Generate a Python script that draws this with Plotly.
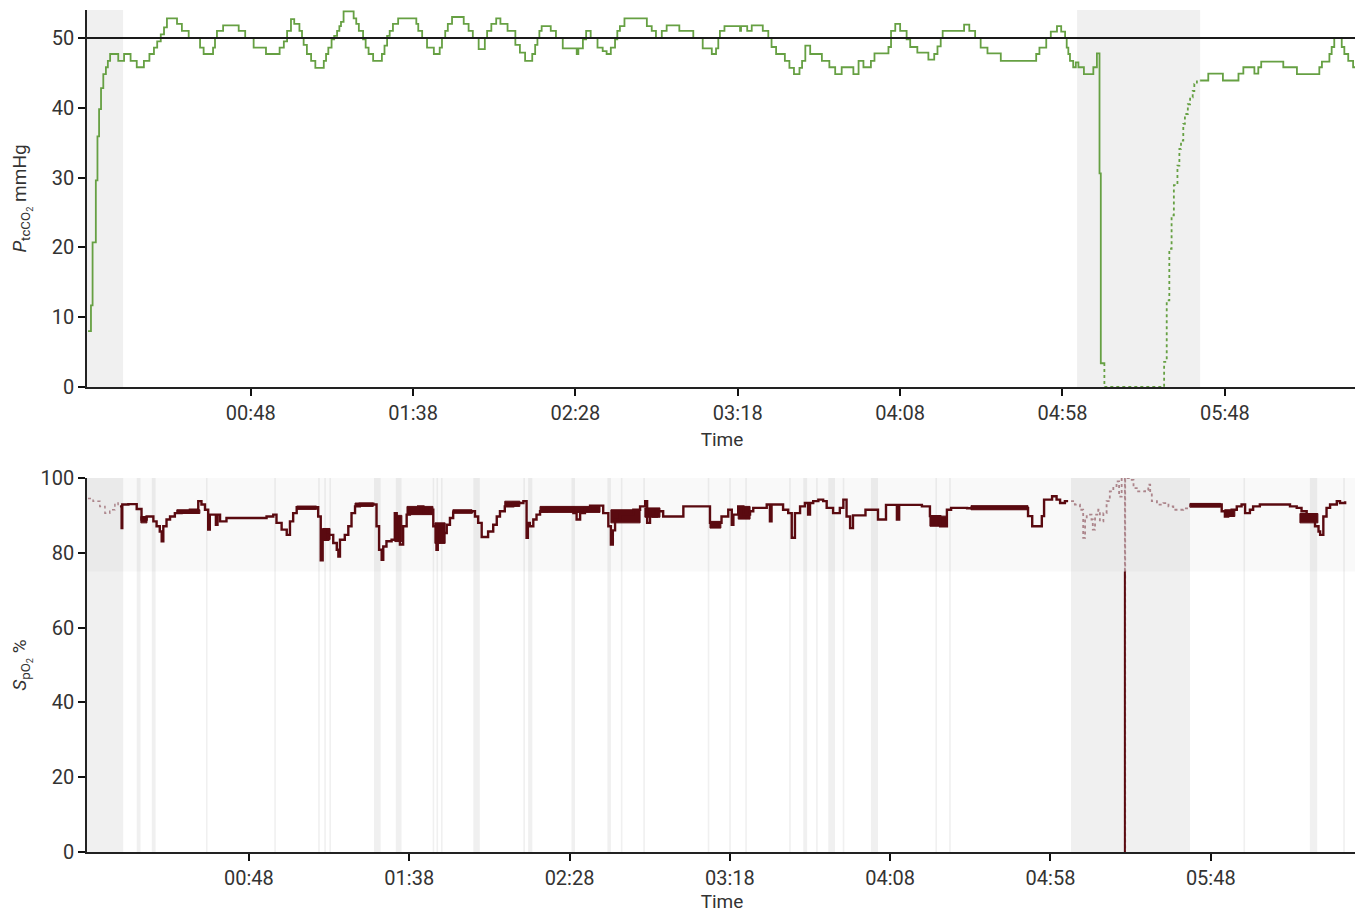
import plotly.graph_objects as go

# ---------------- data (time in minutes from start) ----------------
# PtcCO2 (mmHg) – valid signal, part 1
ptc_t1 = [-2.1, -1.2, -0.7, 0.3, 0.8, 1.3, 1.9, 2.6, 3.4, 4.0, 4.7, 7.2, 9.0, 11.0, 12.9, 15.1, 16.8,
          18.2, 19.2, 20.3, 21.3, 22.2, 25.3, 26.8, 28.9, 32.4, 33.5, 36.4, 37.0, 37.6, 39.5, 44.3, 46.3,
          48.9, 52.7, 56.9, 58.2, 59.2, 60.4, 61.4, 63.0, 63.8, 64.3, 65.3, 66.6, 67.9, 70.5, 71.2, 71.9,
          72.9, 73.7, 74.6, 75.3, 75.8, 76.6, 79.7, 80.5, 81.3, 82.6, 83.4, 84.3, 85.7, 88.4, 89.2, 90.0,
          90.8, 91.8, 93.4, 99.0, 99.6, 100.8, 102.3, 104.4, 106.2, 106.9, 107.9, 108.7, 110.0, 113.6,
          115.1, 116.4, 118.2, 120.1, 120.8, 122.1, 123.6, 124.9, 127.1, 129.5, 130.9, 132.5, 134.7,
          135.6, 136.3, 136.9, 137.6, 140.4, 142.0, 144.1, 148.4, 148.9, 150.3, 151.3, 152.7, 154.8,
          156.4, 157.6, 158.9, 160.2, 160.9, 161.7, 163.1, 170.0, 171.5, 172.8, 174.6, 176.1, 180.0,
          184.3, 187.2, 190.0, 191.3, 192.0, 192.5, 193.9, 198.7, 199.0, 200.9, 202.3, 205.7, 207.4,
          208.4, 209.8, 212.5, 213.9, 215.3, 217.0, 217.8, 218.8, 220.3, 223.9, 226.2, 228.0, 230.0,
          233.6, 235.2, 236.7, 239.0, 240.1, 244.4, 245.2, 246.5, 248.0, 250.0, 251.1, 253.3, 256.7,
          258.5, 259.5, 260.5, 261.1, 267.7, 269.3, 271.1, 272.8, 274.9, 279.0, 289.9, 290.9, 293.0,
          294.4, 296.3, 297.6, 298.8, 299.3, 299.8, 300.3, 301.3, 302.1, 302.9, 304.6, 307.5, 308.6,
          309.4, 309.8, 310.8]
ptc_v1 = [8.0, 11.7, 20.7, 29.6, 35.9, 39.8, 42.8, 44.8, 45.8, 46.7, 47.7, 46.7, 47.7, 46.7, 45.8, 46.7,
          47.7, 48.6, 49.5, 50.5, 51.5, 52.8, 52.0, 51.0, 50.0, 48.6, 47.7, 48.6, 50.0, 51.0, 51.8, 51.0,
          50.0, 48.6, 47.7, 48.6, 49.5, 51.0, 52.7, 52.0, 51.0, 50.0, 49.0, 47.7, 46.7, 45.7, 46.7, 47.7,
          48.6, 49.8, 50.3, 51.0, 51.7, 52.3, 53.8, 52.8, 52.0, 51.0, 49.8, 48.6, 47.7, 46.7, 47.7, 48.9,
          50.3, 51.0, 52.0, 52.8, 52.0, 51.0, 50.0, 48.6, 47.7, 48.6, 50.0, 51.0, 52.0, 53.0, 52.0, 51.0,
          50.0, 48.4, 50.0, 51.0, 52.0, 52.8, 52.0, 51.0, 49.0, 47.9, 46.7, 47.7, 49.0, 50.0, 51.0, 51.7,
          51.0, 50.0, 48.5, 47.7, 48.5, 49.8, 51.0, 50.0, 48.6, 48.1, 47.7, 48.6, 49.8, 51.0, 51.7, 52.8,
          51.7, 51.0, 50.0, 51.0, 51.8, 51.0, 50.0, 48.5, 47.7, 48.5, 50.0, 51.0, 51.7, 51.0, 51.7, 51.0,
          51.8, 51.0, 50.0, 48.7, 47.7, 46.7, 45.7, 44.8, 45.7, 46.7, 48.9, 47.7, 46.7, 45.8, 44.8, 45.8,
          44.8, 46.7, 45.8, 46.7, 47.8, 48.7, 51.0, 52.0, 51.0, 49.8, 48.7, 47.9, 46.9, 47.7, 48.8, 50.0,
          51.0, 51.9, 51.0, 50.0, 48.6, 47.8, 46.7, 47.7, 48.6, 50.0, 50.9, 51.7, 50.9, 50.0, 48.6, 47.7,
          46.7, 45.8, 46.5, 45.8, 44.8, 45.8, 47.8, 30.6, 3.4, 3.4]
# PtcCO2 – signal recovering (dotted)
ptc_t_gap = [310.8, 310.9, 329.3, 330.1, 330.9, 331.6, 332.3, 333.4, 334.0, 334.5, 335.2, 335.7, 336.6,
             337.3, 338.1, 338.6, 339.4, 340.4]
ptc_v_gap = [3.4, 0.0, 3.6, 12.4, 19.8, 24.6, 28.9, 31.7, 34.1, 35.3, 37.7, 39.1, 40.5, 41.5, 42.4, 43.4,
             43.9, 43.9]
# PtcCO2 – valid signal, part 2
ptc_t2 = [340.4, 342.9, 347.4, 352.2, 353.7, 357.1, 358.3, 359.2, 366.0, 370.2, 377.1, 377.9, 380.2,
          380.9, 381.7, 384.0, 384.8, 386.0, 387.5, 388.7]
ptc_v2 = [43.9, 44.9, 43.9, 44.9, 45.8, 44.9, 45.8, 46.6, 45.8, 44.8, 45.8, 46.6, 47.7, 48.7, 50.0, 48.7,
          47.7, 46.7, 45.8, 45.8]
ptc_target = 50
ptc_artifact_start = [-2.42, 302.5]
ptc_artifact_end = [8.7, 340.4]

# SpO2 (%) – artifact-flagged samples (light, dotted)
spo_t_art1 = [-2.2, -0.6, 1.5, 3.1, 4.6, 6.2, 7.2, 7.8]
spo_v_art1 = [94.5, 93.8, 92.4, 90.6, 91.5, 93.3, 92.4, 92.4]
spo_t_art2 = [304.4, 305.6, 307.2, 308.2, 308.8, 309.3, 310.8, 311.2, 311.9, 312.9, 313.4, 314.5, 315.5,
              316.5, 317.6, 318.6, 319.4, 320.2, 320.9, 321.2, 321.3, 321.8, 322.8, 323.9, 324.9, 327.5,
              328.5, 329.1, 329.6, 331.2, 333.2, 334.8, 336.3, 339.4, 341.5]
spo_v_art2 = [93.8, 92.9, 91.5, 84.0, 88.9, 90.2, 88.9, 86.2, 90.2, 91.5, 88.4, 90.6, 93.8, 96.4, 97.8,
              99.1, 95.0, 100, 100, 0, 100, 100, 99.5, 97.3, 96.4, 96.8, 98.2, 96.0, 93.8, 92.9, 93.3,
              92.4, 91.5, 91.9, 92.9]
# SpO2 – valid samples
spo_t1 = [7.8, 8.3, 8.5, 10.4, 13.0, 14.5, 16.1, 18.2, 19.2, 20.2, 20.8, 21.3, 22.3, 23.4, 24.9, 27.0,
          29.6, 32.2, 33.2, 34.3, 35.3, 35.8, 36.9, 37.7, 38.2, 39.0, 41.0, 53.5, 55.6, 56.6, 58.2, 59.8,
          60.8, 61.8, 62.9, 69.1, 69.6, 70.4, 71.0, 71.7, 72.7, 74.3, 75.4, 75.9, 76.4, 77.9, 79.0, 80.0,
          81.1, 82.6, 86.8, 87.8, 88.6, 89.4, 89.9, 90.9, 92.5, 93.5, 94.1, 95.1, 96.1, 97.2, 98.2, 100.8,
          102.4, 104.5, 105.5, 106.5, 106.9, 108.6, 109.7, 110.7, 111.7, 117.5, 118.5, 119.5, 120.6,
          122.6, 124.2, 125.3, 126.3, 127.8, 130.4, 133.6, 134.6, 135.0, 135.6, 136.7, 137.7, 138.8,
          140.9, 149.2, 150.2, 151.3, 152.8, 154.4, 158.5, 160.1, 160.9, 161.5, 162.2, 163.7, 167.9,
          170.0, 171.6, 172.2, 173.1, 174.1, 175.2, 177.2, 183.5, 190.8, 191.8, 195.4, 197.5, 198.6,
          199.1, 200.6, 202.2, 204.3, 205.3, 209.5, 210.5, 211.0, 214.6, 216.2, 217.3, 218.3, 219.9,
          221.4, 222.4, 223.0, 224.0, 225.6, 227.1, 228.2, 230.2, 232.3, 233.4, 234.4, 235.5, 236.4,
          240.3, 244.2, 246.7, 250.1, 250.8, 257.9, 260.4, 263.6, 265.7, 267.0, 272.0, 291.0, 292.3,
          295.3, 296.0, 298.5, 299.9, 301.0, 302.5, 303.5, 304.4]
spo_v1 = [92.4, 86.6, 92.9, 93.0, 91.7, 88.9, 89.7, 88.4, 87.1, 85.7, 83.1, 87.1, 88.9, 89.7, 90.6, 91.0,
          91.5, 93.8, 92.9, 91.5, 86.2, 90.2, 90.2, 87.5, 90.2, 88.4, 89.3, 89.7, 90.2, 88.0, 86.2, 84.8,
          88.4, 90.6, 92.2, 92.2, 89.7, 78.0, 86.2, 83.5, 84.8, 82.6, 80.8, 79.0, 83.5, 84.8, 87.1, 90.6,
          92.4, 93.1, 92.9, 87.1, 80.8, 78.1, 81.7, 83.1, 83.5, 90.6, 85.7, 82.2, 87.1, 90.2, 91.1, 92.4,
          90.6, 91.5, 87.1, 80.8, 86.2, 85.3, 87.5, 89.3, 90.8, 91.1, 89.7, 88.0, 84.2, 85.7, 87.5, 89.7,
          91.1, 92.4, 93.3, 93.8, 84.0, 88.0, 87.1, 88.9, 90.2, 91.1, 92.0, 90.6, 88.9, 90.6, 92.0, 92.6,
          90.6, 87.1, 82.2, 86.0, 88.9, 90.2, 91.5, 92.4, 93.8, 88.0, 91.5, 89.7, 91.1, 89.7, 92.4, 92.4,
          88.0, 89.7, 91.5, 87.5, 90.2, 92.4, 90.2, 91.1, 92.0, 92.9, 88.4, 92.9, 91.5, 90.6, 84.0, 90.6,
          92.4, 93.3, 90.2, 93.3, 93.8, 94.2, 93.8, 92.0, 90.6, 92.0, 94.2, 89.7, 86.6, 90.0, 91.5, 88.9,
          92.8, 88.9, 92.8, 92.4, 89.8, 87.1, 91.5, 92.0, 91.9, 89.8, 87.1, 89.8, 94.2, 95.1, 94.2, 93.3,
          93.8, 93.8]
spo_t2 = [341.5, 351.4, 352.4, 353.4, 354.5, 356.1, 357.6, 358.7, 360.2, 361.2, 363.3, 372.7, 374.8,
          376.3, 377.9, 379.5, 380.5, 381.6, 382.1, 383.1, 384.1, 385.2, 387.3, 388.3, 389.9]
spo_v2 = [92.9, 91.1, 89.7, 91.1, 91.5, 92.4, 92.9, 90.6, 91.5, 92.4, 92.9, 92.4, 92.0, 91.1, 90.2, 89.3,
          87.1, 85.7, 84.8, 89.7, 92.0, 92.9, 93.8, 93.3, 93.8]
# SpO2 – periods where the reading flickers between two levels (start, end, low, high)
spo_flicker_start = [14.3, 25.5, 62.9, 71.0, 81.1, 93.5, 97.3, 106.0, 111.6, 127.8, 138.8, 160.9, 171.5,
                     191.8, 200.6, 260.4, 273.2, 341.5, 352.3, 375.8]
spo_flicker_end = [16.2, 32.7, 69.1, 73.3, 86.8, 95.7, 105.4, 109.2, 117.6, 132.5, 157.5, 170.0, 176.2,
                   195.2, 204.3, 265.7, 291.0, 351.1, 355.5, 381.4]
spo_flicker_lo = [88.0, 90.5, 91.6, 83.5, 92.4, 83.0, 90.2, 82.5, 90.6, 92.4, 90.8, 88.0, 89.5, 86.6,
                  89.0, 87.1, 91.5, 92.2, 89.7, 88.0]
spo_flicker_hi = [89.7, 91.5, 92.5, 86.5, 93.3, 90.0, 92.4, 88.0, 91.5, 93.8, 92.4, 91.5, 92.0, 88.4,
                  92.4, 89.8, 92.6, 93.2, 91.5, 90.5]
spo_dropout_t = [321.2, 321.2]
spo_dropout_v = [0, 75]
spo_band = [75, 100]
# SpO2 artifact periods (start, end in minutes)
spo_art_start = [-2.5, 13.0, 17.7, 34.6, 55.9, 69.6, 71.5, 73.1, 87.0, 93.8, 105.3, 106.5, 107.9, 118.0,
                 133.6, 135.1, 148.6, 159.8, 164.0, 171.0, 191.1, 197.8, 202.8, 216.5, 220.9, 224.9,
                 228.7, 233.2, 242.0, 262.1, 266.4, 304.4, 358.2, 378.9, 389.3]
spo_art_end = [8.8, 14.2, 18.9, 35.1, 56.4, 70.1, 72.0, 73.6, 89.1, 95.6, 105.8, 107.0, 108.4, 120.0,
               134.1, 136.4, 149.7, 160.9, 164.5, 171.5, 191.6, 198.3, 203.3, 217.0, 222.1, 225.4,
               230.8, 233.7, 244.2, 262.6, 266.9, 341.5, 358.7, 381.2, 389.8]

tick_vals = [48, 98, 148, 198, 248, 298, 348]
tick_text = ["00:48", "01:38", "02:28", "03:18", "04:08", "04:58", "05:48"]

GREEN = "#66a043"
DARK = "#5a0a10"
LIGHT = "rgba(120,50,60,0.55)"
FONT = "Roboto"
TXT = "#333"

fig = go.Figure()

# PtcCO2 traces
fig.add_trace(go.Scatter(x=ptc_t1, y=ptc_v1, mode="lines", line=dict(color=GREEN, width=1.8, shape="hv"),
                         xaxis="x", yaxis="y", showlegend=False))
fig.add_trace(go.Scatter(x=ptc_t_gap, y=ptc_v_gap, mode="lines",
                         line=dict(color=GREEN, width=1.8, shape="hv", dash="dot"),
                         xaxis="x", yaxis="y", showlegend=False))
fig.add_trace(go.Scatter(x=ptc_t2, y=ptc_v2, mode="lines", line=dict(color=GREEN, width=1.8, shape="hv"),
                         xaxis="x", yaxis="y", showlegend=False))

# SpO2 flicker blocks (filled rectangles built from the flicker arrays)
fx, fy = [], []
for s, e, lo, hi in zip(spo_flicker_start, spo_flicker_end, spo_flicker_lo, spo_flicker_hi):
    fx += [s, e, e, s, s, None]
    fy += [lo, lo, hi, hi, lo, None]
fig.add_trace(go.Scatter(x=fx, y=fy, mode="lines", fill="toself", fillcolor=DARK,
                         line=dict(color=DARK, width=1), xaxis="x2", yaxis="y2", showlegend=False))

# SpO2 traces
fig.add_trace(go.Scatter(x=spo_t_art1, y=spo_v_art1, mode="lines",
                         line=dict(color=LIGHT, width=1.5, shape="hv", dash="dot"),
                         xaxis="x2", yaxis="y2", showlegend=False))
fig.add_trace(go.Scatter(x=spo_t_art2, y=spo_v_art2, mode="lines",
                         line=dict(color=LIGHT, width=1.8, shape="hv", dash="dot"),
                         xaxis="x2", yaxis="y2", showlegend=False))
fig.add_trace(go.Scatter(x=spo_t1, y=spo_v1, mode="lines", line=dict(color=DARK, width=2.4, shape="hv"),
                         xaxis="x2", yaxis="y2", showlegend=False))
fig.add_trace(go.Scatter(x=spo_t2, y=spo_v2, mode="lines", line=dict(color=DARK, width=2.4, shape="hv"),
                         xaxis="x2", yaxis="y2", showlegend=False))
fig.add_trace(go.Scatter(x=spo_dropout_t, y=spo_dropout_v, mode="lines", line=dict(color=DARK, width=2),
                         xaxis="x2", yaxis="y2", showlegend=False))

shapes = []
for s, e in zip(ptc_artifact_start, ptc_artifact_end):
    shapes.append(dict(type="rect", xref="x", yref="y domain", x0=s, x1=e, y0=0, y1=1,
                       fillcolor="#f0f0f0", line=dict(width=0), layer="below"))
for s, e in zip(spo_art_start, spo_art_end):
    shapes.append(dict(type="rect", xref="x2", yref="y2 domain", x0=s, x1=e, y0=0, y1=1,
                       fillcolor="#f0f0f0", line=dict(width=0), layer="below"))
shapes.append(dict(type="rect", xref="x2 domain", yref="y2", x0=0, x1=1, y0=spo_band[0], y1=spo_band[1],
                   fillcolor="rgba(0,0,0,0.022)", line=dict(width=0), layer="below"))
shapes.append(dict(type="line", xref="x domain", yref="y", x0=0, x1=1, y0=ptc_target, y1=ptc_target,
                   line=dict(color="#1a1a1a", width=2)))

axis_common = dict(showgrid=False, zeroline=False, showline=True, linecolor="#222", linewidth=1.5,
                   ticks="outside", ticklen=7, tickwidth=2, tickcolor="#111", automargin=False,
                   tickfont=dict(family=FONT, size=20, color=TXT))
title_font = dict(family=FONT, size=19, color=TXT)

# the page body adds an 8px offset, so the figure is sized and placed to compensate
fig.update_layout(
    width=1355, height=905,
    margin=dict(l=79, r=6, t=2, b=61),
    plot_bgcolor="white", paper_bgcolor="white",
    shapes=shapes,
    xaxis=dict(domain=[0, 1], anchor="y", range=[-2.42, 388.7], tickvals=tick_vals, ticktext=tick_text,
               title=dict(text="Time", font=title_font, standoff=9), **axis_common),
    yaxis=dict(domain=[0.5523, 1], anchor="x", range=[0, 54], tickvals=[0, 10, 20, 30, 40, 50],
               title=dict(text="<i>P</i><sub>tcCO<sub>2</sub></sub> mmHg", font=title_font, standoff=20),
               **axis_common),
    xaxis2=dict(domain=[0, 1], anchor="y2", range=[-2.5, 393.6], tickvals=tick_vals, ticktext=tick_text,
                title=dict(text="Time", font=title_font, standoff=9), **axis_common),
    yaxis2=dict(domain=[0, 0.4442], anchor="x2", range=[0, 100], tickvals=[0, 20, 40, 60, 80, 100],
                title=dict(text="<i>S</i><sub>pO<sub>2</sub></sub> %", font=title_font, standoff=10),
                **axis_common),
)

fig.write_html("out.html")
